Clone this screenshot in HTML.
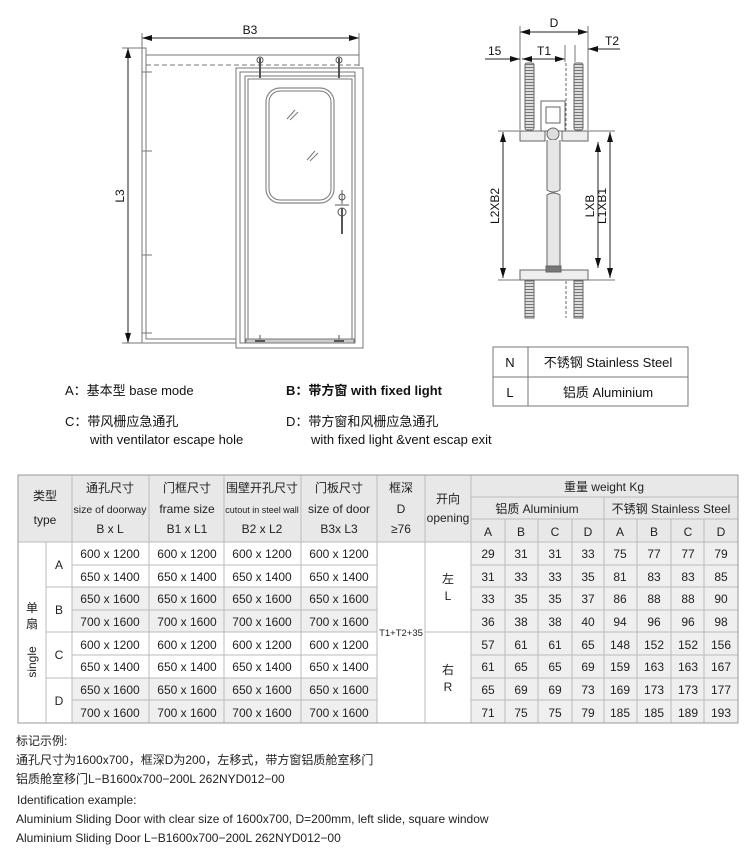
<!DOCTYPE html>
<html><head><meta charset="utf-8"><style>
html,body{margin:0;padding:0;background:#fff;}
svg{display:block;font-family:"Liberation Sans","Noto Sans CJK SC",sans-serif;}
</style></head><body>
<svg width="750" height="868" viewBox="0 0 750 868" xmlns="http://www.w3.org/2000/svg">
<defs>
<marker id="a" viewBox="0 0 10 6" refX="10" refY="3" markerWidth="10" markerHeight="6" orient="auto-start-reverse"><path d="M0,0L10,3L0,6z" fill="#111"/></marker>
<pattern id="h" width="4" height="3" patternUnits="userSpaceOnUse"><rect width="4" height="3" fill="#ddd"/><line x1="0" y1="1.5" x2="4" y2="1.5" stroke="#777" stroke-width="1"/></pattern>
</defs>
<!-- LEFT DRAWING -->
<g fill="none" stroke="#777" stroke-width="1">
<line x1="142" y1="38" x2="359" y2="38" stroke="#222" marker-start="url(#a)" marker-end="url(#a)"/>
<line x1="142" y1="33" x2="142" y2="48"/>
<line x1="359" y1="33" x2="359" y2="66"/>
<text x="250" y="34" font-size="12" fill="#111" stroke="none" text-anchor="middle">B3</text>
<line x1="128" y1="48" x2="128" y2="343" stroke="#222" marker-start="url(#a)" marker-end="url(#a)"/>
<text transform="translate(124,196) rotate(-90)" font-size="12" fill="#111" stroke="none" text-anchor="middle">L3</text>
<line x1="122" y1="48" x2="142" y2="48"/><line x1="122" y1="343" x2="142" y2="343"/>
<path d="M142,48 V343 H236"/><path d="M146,55 V339 H236"/>
<path d="M142,48 H146 V55 H359"/>
<line x1="146" y1="65" x2="359" y2="65" stroke-dasharray="5,3"/>
<line x1="142" y1="72" x2="152" y2="72"/><line x1="142" y1="151" x2="152" y2="151"/><line x1="142" y1="255" x2="152" y2="255"/><line x1="142" y1="333" x2="152" y2="333"/>
<rect x="236" y="68" width="127" height="280"/>
<rect x="240" y="72" width="115" height="271"/>
<rect x="245" y="76" width="110" height="267"/>
<rect x="248" y="79" width="104" height="262"/>
<rect x="246" y="339" width="108" height="4" fill="#ccc"/>
<rect x="266" y="88" width="68" height="115" rx="14" stroke="#888" stroke-width="1.2"/>
<rect x="269" y="91" width="62" height="109" rx="11"/>
<line x1="287" y1="119" x2="295" y2="110"/><line x1="290" y1="120" x2="298" y2="112"/>
<line x1="307" y1="160" x2="315" y2="151"/><line x1="310" y1="161" x2="318" y2="153"/>
<g stroke="#555"><line x1="260" y1="58" x2="260" y2="78" stroke-width="2"/><line x1="339" y1="58" x2="339" y2="78" stroke-width="2"/>
<circle cx="260" cy="60" r="3"/><circle cx="339" cy="60" r="3"/>
<line x1="260" y1="339" x2="260" y2="335"/><line x1="339" y1="339" x2="339" y2="335"/>
<line x1="255" y1="341" x2="265" y2="341" stroke-width="2"/><line x1="334" y1="341" x2="344" y2="341" stroke-width="2"/>
<circle cx="342" cy="197" r="3"/><line x1="342" y1="190" x2="342" y2="204"/><line x1="335" y1="205" x2="349" y2="205"/>
<circle cx="342" cy="212" r="4"/><line x1="342" y1="208" x2="342" y2="234" stroke-width="2"/></g>
</g>
<!-- RIGHT DRAWING -->
<g fill="none" stroke="#777" stroke-width="1">
<line x1="520" y1="32" x2="588" y2="32" stroke="#222" marker-start="url(#a)" marker-end="url(#a)"/>
<text x="554" y="27" font-size="12" fill="#111" stroke="none" text-anchor="middle">D</text>
<line x1="520" y1="26" x2="520" y2="130"/><line x1="588" y1="26" x2="588" y2="130"/>
<line x1="485" y1="59" x2="520" y2="59" stroke="#222" marker-end="url(#a)"/>
<text x="488" y="55" font-size="12" fill="#111" stroke="none">15</text>
<line x1="522" y1="59" x2="565" y2="59" stroke="#222" marker-start="url(#a)" marker-end="url(#a)"/>
<text x="544" y="55" font-size="12" fill="#111" stroke="none" text-anchor="middle">T1</text>
<line x1="565" y1="45" x2="565" y2="62"/><line x1="575" y1="45" x2="575" y2="62"/>
<line x1="588" y1="49" x2="620" y2="49" stroke="#222" marker-start="url(#a)"/>
<text x="605" y="45" font-size="12" fill="#111" stroke="none">T2</text>
<g stroke="#666">
<rect x="525" y="63" width="9" height="67" rx="2" fill="url(#h)"/><rect x="574" y="63" width="9" height="67" rx="2" fill="url(#h)"/>
<line x1="566" y1="63" x2="566" y2="130" stroke-dasharray="3,2"/>
<rect x="525" y="281" width="9" height="37" fill="url(#h)"/><rect x="574" y="281" width="9" height="37" fill="url(#h)"/>
<line x1="566" y1="281" x2="566" y2="318" stroke-dasharray="3,2"/>
<rect x="520" y="131" width="25" height="10" fill="#eee"/><rect x="562" y="131" width="26" height="10" fill="#eee"/>
<rect x="520" y="270" width="68" height="10" fill="#eee"/>
<rect x="541" y="101" width="24" height="30"/><rect x="546" y="107" width="14" height="16"/>
<circle cx="553" cy="134" r="6" fill="#ddd"/>
<path d="M547,140 V190 q6,4 13,0 V140" fill="#e6e6e6"/>
<path d="M547,270 V195 q6,-4 13,0 V270" fill="#e6e6e6"/>
<rect x="546" y="266" width="15" height="6" fill="#777"/>
</g>
<line x1="503" y1="132" x2="503" y2="278" stroke="#222" marker-start="url(#a)" marker-end="url(#a)"/>
<line x1="498" y1="131" x2="520" y2="131"/><line x1="498" y1="280" x2="520" y2="280"/>
<text transform="translate(499,206) rotate(-90)" font-size="12" fill="#111" stroke="none" text-anchor="middle">L2XB2</text>
<line x1="598" y1="142" x2="598" y2="268" stroke="#222" marker-start="url(#a)" marker-end="url(#a)"/>
<line x1="610" y1="132" x2="610" y2="278" stroke="#222" marker-start="url(#a)" marker-end="url(#a)"/>
<line x1="588" y1="131" x2="615" y2="131"/><line x1="588" y1="280" x2="615" y2="280"/>
<text transform="translate(594,206) rotate(-90)" font-size="12" fill="#111" stroke="none" text-anchor="middle">LXB</text>
<text transform="translate(606,206) rotate(-90)" font-size="12" fill="#111" stroke="none" text-anchor="middle">L1XB1</text>
</g>
<g stroke="#777" fill="none"><rect x="493" y="347" width="195" height="59"/><line x1="493" y1="377" x2="688" y2="377"/><line x1="528" y1="347" x2="528" y2="406"/></g>
<g font-size="13" fill="#111" text-anchor="middle">
<text x="510" y="367">N</text><text x="608" y="367">不锈钢 Stainless Steel</text>
<text x="510" y="397">L</text><text x="608" y="397">铝质 Aluminium</text>
</g>
<g font-size="13" fill="#111">
<text x="65" y="395">A：基本型 base mode</text>
<text x="286" y="395" font-weight="bold">B：带方窗 with fixed light</text>
<text x="65" y="426">C：带风栅应急通孔</text>
<text x="90" y="444">with ventilator escape hole</text>
<text x="286" y="426">D：带方窗和风栅应急通孔</text>
<text x="311" y="444">with fixed light &amp;vent escap exit</text>
</g>
<!-- BIG TABLE -->
<rect x="18" y="475" width="720" height="67" fill="#e8e8e8"/>
<g fill="#efefef">
<rect x="471" y="542" width="267" height="181"/>
<rect x="72" y="587" width="305" height="45"/>
<rect x="72" y="678" width="305" height="45"/>
</g>
<g stroke="#bbb" fill="none">
<line x1="72" y1="565" x2="377" y2="565"/><line x1="72" y1="610" x2="377" y2="610"/><line x1="72" y1="655" x2="377" y2="655"/><line x1="72" y1="700" x2="377" y2="700"/>
<line x1="46" y1="587" x2="377" y2="587"/><line x1="46" y1="632" x2="377" y2="632"/><line x1="46" y1="678" x2="377" y2="678"/>
<line x1="425" y1="632" x2="471" y2="632"/>
<line x1="471" y1="565" x2="738" y2="565"/><line x1="471" y1="587" x2="738" y2="587"/><line x1="471" y1="610" x2="738" y2="610"/><line x1="471" y1="632" x2="738" y2="632"/><line x1="471" y1="655" x2="738" y2="655"/><line x1="471" y1="678" x2="738" y2="678"/><line x1="471" y1="700" x2="738" y2="700"/>
<line x1="471" y1="497" x2="738" y2="497"/><line x1="471" y1="519" x2="738" y2="519"/>
<line x1="604" y1="497" x2="604" y2="723"/>
<line x1="505" y1="519" x2="505" y2="723"/><line x1="538" y1="519" x2="538" y2="723"/><line x1="572" y1="519" x2="572" y2="723"/>
<line x1="637" y1="519" x2="637" y2="723"/><line x1="671" y1="519" x2="671" y2="723"/><line x1="704" y1="519" x2="704" y2="723"/>
<line x1="46" y1="542" x2="46" y2="723"/><line x1="72" y1="475" x2="72" y2="723"/><line x1="149" y1="475" x2="149" y2="723"/><line x1="224" y1="475" x2="224" y2="723"/><line x1="301" y1="475" x2="301" y2="723"/><line x1="377" y1="475" x2="377" y2="723"/><line x1="425" y1="475" x2="425" y2="723"/><line x1="471" y1="475" x2="471" y2="723"/>
<line x1="18" y1="542" x2="738" y2="542"/>
</g>
<rect x="18" y="475" width="720" height="248" fill="none" stroke="#999"/>
<g font-size="12" fill="#222" text-anchor="middle">
<text x="45" y="500">类型</text><text x="45" y="524">type</text>
<text x="110" y="492">通孔尺寸</text><text x="110" y="513" font-size="10.5">size of doorway</text><text x="110" y="533">B x L</text>
<text x="187" y="492">门框尺寸</text><text x="187" y="513">frame size</text><text x="187" y="533">B1 x L1</text>
<text x="262" y="492">围壁开孔尺寸</text><text x="262" y="513" font-size="9">cutout in steel wall</text><text x="262" y="533">B2 x L2</text>
<text x="339" y="492">门板尺寸</text><text x="339" y="513">size of door</text><text x="339" y="533">B3x L3</text>
<text x="401" y="492">框深</text><text x="401" y="513">D</text><text x="401" y="533">≥76</text>
<text x="448" y="503">开向</text><text x="448" y="522">opening</text>
<text x="604" y="491">重量 weight Kg</text>
<text x="537" y="513">铝质 Aluminium</text><text x="671" y="513">不锈钢 Stainless Steel</text>
<text x="488" y="536">A</text><text x="521" y="536">B</text><text x="555" y="536">C</text><text x="588" y="536">D</text>
<text x="620" y="536">A</text><text x="654" y="536">B</text><text x="688" y="536">C</text><text x="721" y="536">D</text>
<text x="59" y="569">A</text><text x="59" y="614">B</text><text x="59" y="659">C</text><text x="59" y="705">D</text>
<text x="32" y="612">单</text><text x="32" y="628">扇</text>
<text transform="translate(36,662) rotate(-90)" text-anchor="middle">single</text>
<text x="401" y="636" font-size="9.5">T1+T2+35</text>
<text x="448" y="583">左</text><text x="448" y="600">L</text>
<text x="448" y="674">右</text><text x="448" y="691">R</text>
</g>
<g font-size="12" fill="#222" text-anchor="middle">
<text x="110" y="558">600 x 1200</text><text x="187" y="558">600 x 1200</text><text x="262" y="558">600 x 1200</text><text x="339" y="558">600 x 1200</text>
<text x="110" y="581">650 x 1400</text><text x="187" y="581">650 x 1400</text><text x="262" y="581">650 x 1400</text><text x="339" y="581">650 x 1400</text>
<text x="110" y="603">650 x 1600</text><text x="187" y="603">650 x 1600</text><text x="262" y="603">650 x 1600</text><text x="339" y="603">650 x 1600</text>
<text x="110" y="626">700 x 1600</text><text x="187" y="626">700 x 1600</text><text x="262" y="626">700 x 1600</text><text x="339" y="626">700 x 1600</text>
<text x="110" y="649">600 x 1200</text><text x="187" y="649">600 x 1200</text><text x="262" y="649">600 x 1200</text><text x="339" y="649">600 x 1200</text>
<text x="110" y="671">650 x 1400</text><text x="187" y="671">650 x 1400</text><text x="262" y="671">650 x 1400</text><text x="339" y="671">650 x 1400</text>
<text x="110" y="694">650 x 1600</text><text x="187" y="694">650 x 1600</text><text x="262" y="694">650 x 1600</text><text x="339" y="694">650 x 1600</text>
<text x="110" y="717">700 x 1600</text><text x="187" y="717">700 x 1600</text><text x="262" y="717">700 x 1600</text><text x="339" y="717">700 x 1600</text>
</g>
<g font-size="12" fill="#222" text-anchor="middle">
<text y="558"><tspan x="488">29</tspan><tspan x="521">31</tspan><tspan x="555">31</tspan><tspan x="588">33</tspan><tspan x="620">75</tspan><tspan x="654">77</tspan><tspan x="688">77</tspan><tspan x="721">79</tspan></text>
<text y="581"><tspan x="488">31</tspan><tspan x="521">33</tspan><tspan x="555">33</tspan><tspan x="588">35</tspan><tspan x="620">81</tspan><tspan x="654">83</tspan><tspan x="688">83</tspan><tspan x="721">85</tspan></text>
<text y="603"><tspan x="488">33</tspan><tspan x="521">35</tspan><tspan x="555">35</tspan><tspan x="588">37</tspan><tspan x="620">86</tspan><tspan x="654">88</tspan><tspan x="688">88</tspan><tspan x="721">90</tspan></text>
<text y="626"><tspan x="488">36</tspan><tspan x="521">38</tspan><tspan x="555">38</tspan><tspan x="588">40</tspan><tspan x="620">94</tspan><tspan x="654">96</tspan><tspan x="688">96</tspan><tspan x="721">98</tspan></text>
<text y="649"><tspan x="488">57</tspan><tspan x="521">61</tspan><tspan x="555">61</tspan><tspan x="588">65</tspan><tspan x="620">148</tspan><tspan x="654">152</tspan><tspan x="688">152</tspan><tspan x="721">156</tspan></text>
<text y="671"><tspan x="488">61</tspan><tspan x="521">65</tspan><tspan x="555">65</tspan><tspan x="588">69</tspan><tspan x="620">159</tspan><tspan x="654">163</tspan><tspan x="688">163</tspan><tspan x="721">167</tspan></text>
<text y="694"><tspan x="488">65</tspan><tspan x="521">69</tspan><tspan x="555">69</tspan><tspan x="588">73</tspan><tspan x="620">169</tspan><tspan x="654">173</tspan><tspan x="688">173</tspan><tspan x="721">177</tspan></text>
<text y="717"><tspan x="488">71</tspan><tspan x="521">75</tspan><tspan x="555">75</tspan><tspan x="588">79</tspan><tspan x="620">185</tspan><tspan x="654">185</tspan><tspan x="688">189</tspan><tspan x="721">193</tspan></text>
</g>
<g font-size="12" fill="#222">
<text x="16" y="745">标记示例:</text>
<text x="16" y="764">通孔尺寸为1600x700，框深D为200，左移式，带方窗铝质舱室移门</text>
<text x="16" y="783">铝质舱室移门L−B1600x700−200L 262NYD012−00</text>
<text x="17" y="804">Identification example:</text>
<text x="16" y="823">Aluminium Sliding Door with clear size of 1600x700, D=200mm, left slide, square window</text>
<text x="16" y="842">Aluminium Sliding Door L−B1600x700−200L 262NYD012−00</text>
</g>
</svg>
</body></html>
